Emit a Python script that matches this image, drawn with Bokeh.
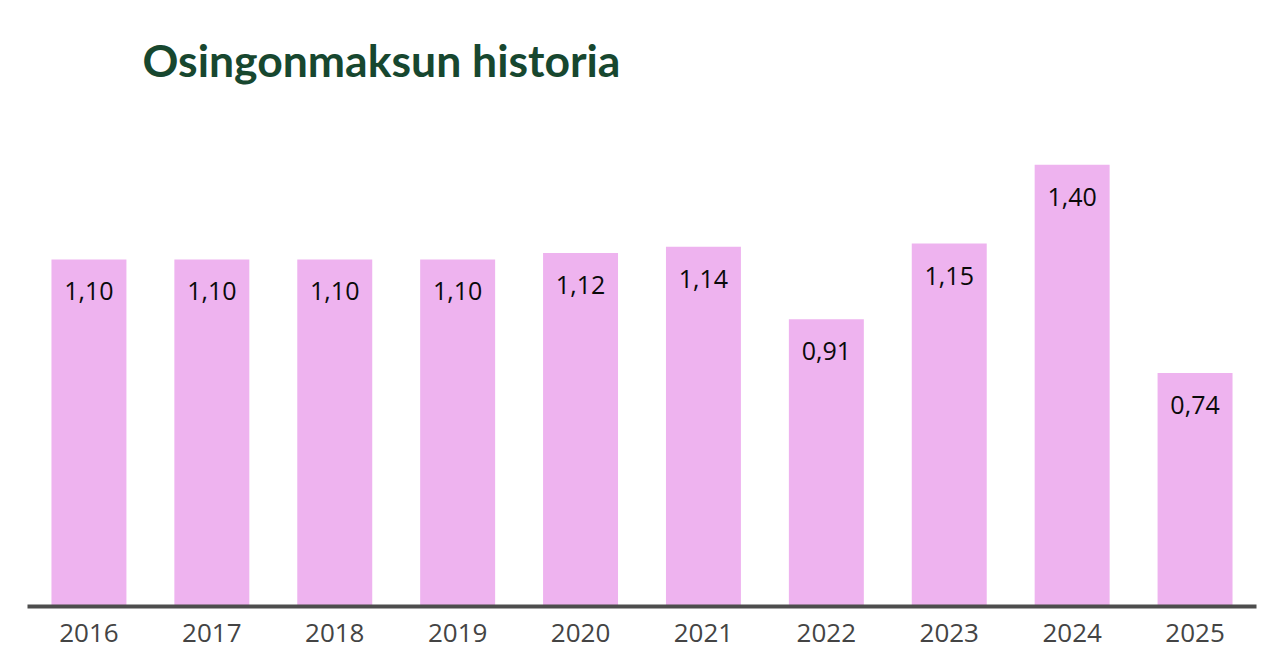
from bokeh.plotting import figure
from bokeh.models import ColumnDataSource, Range1d, FactorRange, Title
from bokeh.core.properties import value
from bokeh.embed import file_html
from bokeh.resources import INLINE

years = ["2016", "2017", "2018", "2019", "2020", "2021", "2022", "2023", "2024", "2025"]
dividends = [1.10, 1.10, 1.10, 1.10, 1.12, 1.14, 0.91, 1.15, 1.40, 0.74]
labels = ["1,10", "1,10", "1,10", "1,10", "1,12", "1,14", "0,91", "1,15", "1,40", "0,74"]
title_text = "Osingonmaksun historia"

src = ColumnDataSource(dict(x=years, top=dividends, label=labels))

p = figure(width=1271, height=664, x_range=FactorRange(*years, range_padding=0),
           y_range=Range1d(0, 1.632), output_backend="svg", toolbar_location=None,
           min_border_left=27, min_border_right=15, min_border_bottom=58, min_border_top=91)

t = Title(text=title_text, align="left", offset=115, text_font="Lato",
          text_font_size="44.5px", text_font_style="bold", text_color="#17472F", standoff=12)
p.title = t

p.vbar(x="x", top="top", width=0.61, source=src, fill_color="#EEB3EF", line_color=None)
p.text(x="x", y="top", text="label", source=src, text_align="center", text_baseline="middle",
       y_offset=32, text_font=value("Open Sans"), text_font_size="25px", text_color="#0A0A0A")

p.outline_line_color = None
p.background_fill_color = "white"
p.border_fill_color = "white"
p.xgrid.grid_line_color = None
p.ygrid.grid_line_color = None
p.yaxis.visible = False
xa = p.xaxis[0]
xa.axis_line_color = "#4D4D4D"
xa.axis_line_width = 4
xa.major_tick_line_color = None
xa.minor_tick_line_color = None
xa.major_tick_in = 0
xa.major_tick_out = 0
xa.major_label_standoff = 17
xa.major_label_text_font = "Open Sans"
xa.major_label_text_font_size = "26px"
xa.major_label_text_color = "#444444"

open("out.html", "w").write(file_html(p, INLINE))
